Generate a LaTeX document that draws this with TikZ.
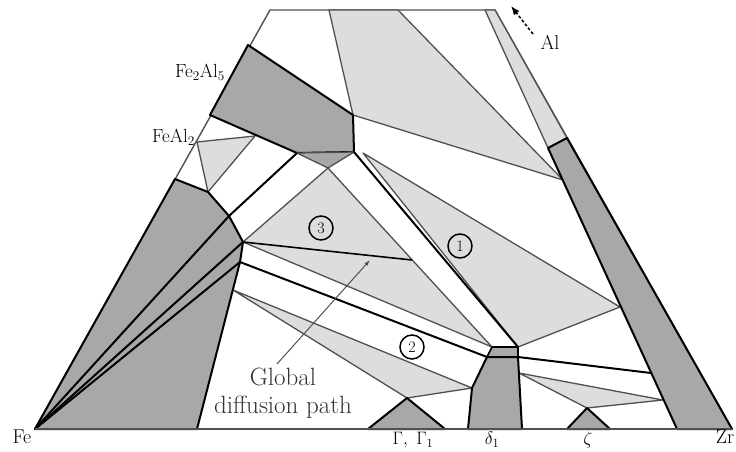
\RequirePackage{fix-cm}
\documentclass[tikz,border=0pt]{standalone}
\usepackage{amsmath}
\usepackage{xcolor}
\usepackage{tikz}
\usetikzlibrary{arrows.meta, calc}

\definecolor{phasedark}{RGB}{168,168,168}
\definecolor{phaselight}{RGB}{221,221,221}
\definecolor{linegray}{RGB}{80,80,80}

\begin{document}
\begin{tikzpicture}[
  x=1pt, y=-1pt,
  >=Latex,
  outline/.style={draw=linegray, line width=1.4pt, line join=round},
  lightphase/.style={fill=phaselight, draw=linegray, line width=1.3pt, line join=round},
  darkphase/.style={fill=phasedark, draw=black, line width=2pt, line join=round},
  tieline/.style={draw=black, line width=2pt},
  phaselabel/.style={font=\fontsize{19}{22}\selectfont, inner sep=0pt},
  cornerlabel/.style={font=\fontsize{20}{23}\selectfont, inner sep=0pt},
  baselabel/.style={font=\fontsize{18}{21}\selectfont, inner sep=0pt, anchor=north},
  regionmark/.style={circle, draw=black, line width=1.5pt, inner sep=0pt, minimum size=24pt, font=\fontsize{16}{18}\selectfont}
]
\useasboundingbox (0,0) rectangle (736,452);

% ---------------------------------------------------
% Corner grid (pixel coordinates, y downwards)
% ---------------------------------------------------
\coordinate (Fe) at (35,429);
\coordinate (Zr) at (732,429);
\coordinate (topL) at (270,10);
\coordinate (topR) at (495,10);
\coordinate (innerT) at (485,10);
\coordinate (innerB) at (677,429);
\coordinate (stripI) at (548,148);
\coordinate (stripO) at (567,138);

% Fe2Al5 and FeAl2
\coordinate (aTop) at (248,45);
\coordinate (aBot) at (210,115);
\coordinate (aRt) at (353,115);
\coordinate (aCor) at (354,152);
\coordinate (aLow) at (297,153);
\coordinate (tri3) at (328,168);
\coordinate (bLeft) at (197,142);
\coordinate (bRight) at (255,136);

% Fe corner phase
\coordinate (fTop) at (175,179);
\coordinate (fA) at (208,192);
\coordinate (fB) at (229,216);
\coordinate (fC) at (243,242);
\coordinate (fD) at (240,262);
\coordinate (fE) at (233,290);
\coordinate (fBot) at (197,429);

% top field
\coordinate (gA) at (329,10);
\coordinate (gB) at (398,10);
\coordinate (gApex) at (563,180);

% delta1
\coordinate (dBL) at (468,429);
\coordinate (dL1) at (472,388);
\coordinate (dL2) at (487,357);
\coordinate (capL) at (492,347);
\coordinate (capR) at (518,347);
\coordinate (dR) at (518,357);
\coordinate (dBR) at (522,429);

% fields 1, 2, 3
\coordinate (oneTop) at (363,153);
\coordinate (oneApex) at (620,307);
\coordinate (split) at (412,260);
\coordinate (gamApex) at (407,398);
\coordinate (zA) at (519,373);
\coordinate (zB) at (663,400);
\coordinate (zApex) at (587,408);
\coordinate (zEnd) at (651,373);

% ---------------------------------------------------
% Outer frame
% ---------------------------------------------------
\draw[outline] (Fe) -- (topL) -- (topR) -- (Zr) -- cycle;

% ---------------------------------------------------
% Light fields
% ---------------------------------------------------
\draw[lightphase] (gA) -- (gB) -- (gApex) -- (aRt) -- cycle;
\draw[lightphase] (innerT) -- (topR) -- (stripO) -- (stripI) -- cycle;
\draw[lightphase] (bLeft) -- (bRight) -- (fA) -- cycle;
\draw[lightphase] (oneTop) -- (oneApex) -- (capR) -- cycle;
\draw[lightphase] (tri3) -- (fC) -- (capL) -- cycle;
\draw[lightphase] (fE) -- (dL1) -- (gamApex) -- cycle;
\draw[lightphase] (zA) -- (zB) -- (zApex) -- cycle;

% ---------------------------------------------------
% Dark fields
% ---------------------------------------------------
\draw[darkphase] (aTop) -- (aRt) -- (aCor) -- (aLow) -- (aBot) -- cycle;
\draw[lightphase, fill=phasedark] (aLow) -- (aCor) -- (tri3) -- cycle;
\draw[darkphase] (Fe) -- (fTop) -- (fA) -- (fB) -- (fC) -- (fD) -- (fBot) -- cycle;
\draw[darkphase] (dBL) -- (dL1) -- (dL2) -- (dR) -- (dBR) -- cycle;
\draw[darkphase, line width=1.6pt] (capL) -- (capR) -- (dR) -- (dL2) -- cycle;
\draw[darkphase] (368,429) coordinate (gamL) -- (gamApex) -- (445,429) coordinate (gamR) -- cycle;
\draw[darkphase] (567,429) coordinate (zetL) -- (587,408) coordinate (zetTip) -- (610,429) coordinate (zetR) -- cycle;
\draw[darkphase] (stripI) -- (stripO) -- (Zr) -- (innerB) -- cycle;

% ---------------------------------------------------
% Tie lines
% ---------------------------------------------------
\draw[tieline] (Fe) -- (fB) -- (aLow);
\draw[tieline] (Fe) -- (fC);
\draw[tieline] (Fe) -- (fD);
\draw[tieline] (aCor) -- (capR);
\draw[tieline] (fD) -- (dL2);
\draw[tieline] (dR) -- (zEnd);
\draw[tieline, line width=1.6pt] (fC) -- (split);
\draw[draw=linegray, line width=1.5pt] (Fe) -- (Zr);

% ---------------------------------------------------
% Labels
% ---------------------------------------------------
\node[phaselabel, anchor=east] (lblFeAlFive) at (225,72) {Fe$_2$Al$_5$};
\node[phaselabel, anchor=east] (lblFeAlTwo) at (195,137) {FeAl$_2$};
\node[cornerlabel] (lblFe) at (22,437) {Fe};
\node[cornerlabel] (lblZr) at (725,437) {Zr};
\node[cornerlabel] (lblAl) at (550,42) {Al};
\coordinate (alTail) at (533,34);
\coordinate (alTip) at (511,6);
\draw[line width=1.5pt, dash pattern=on 3pt off 2pt, -{Latex[length=9pt, width=7pt]}] (alTail) -- (alTip);

\node[baselabel] (lblGam) at (413,432) {$\Gamma,\ \Gamma_1$};
\node[baselabel] (lblDelta) at (492,432) {$\delta_1$};
\node[baselabel] (lblZeta) at (588,432) {$\zeta$};

\node[regionmark] (markOne) at (460,246) {1};
\node[regionmark] (markTwo) at (412,347) {2};
\node[regionmark] (markThree) at (321,228) {3};

\node[font=\fontsize{25}{28}\selectfont, align=center, inner sep=0pt, text=black!80] (lblPath) at (283,393) {Global\\diffusion path};
\coordinate (pathTail) at (277,364);
\coordinate (pathTip) at (370,260);
\draw[draw=linegray, line width=1pt, -{Latex[length=6pt, width=4pt]}] (pathTail) -- (pathTip);

\end{tikzpicture}
\end{document}
